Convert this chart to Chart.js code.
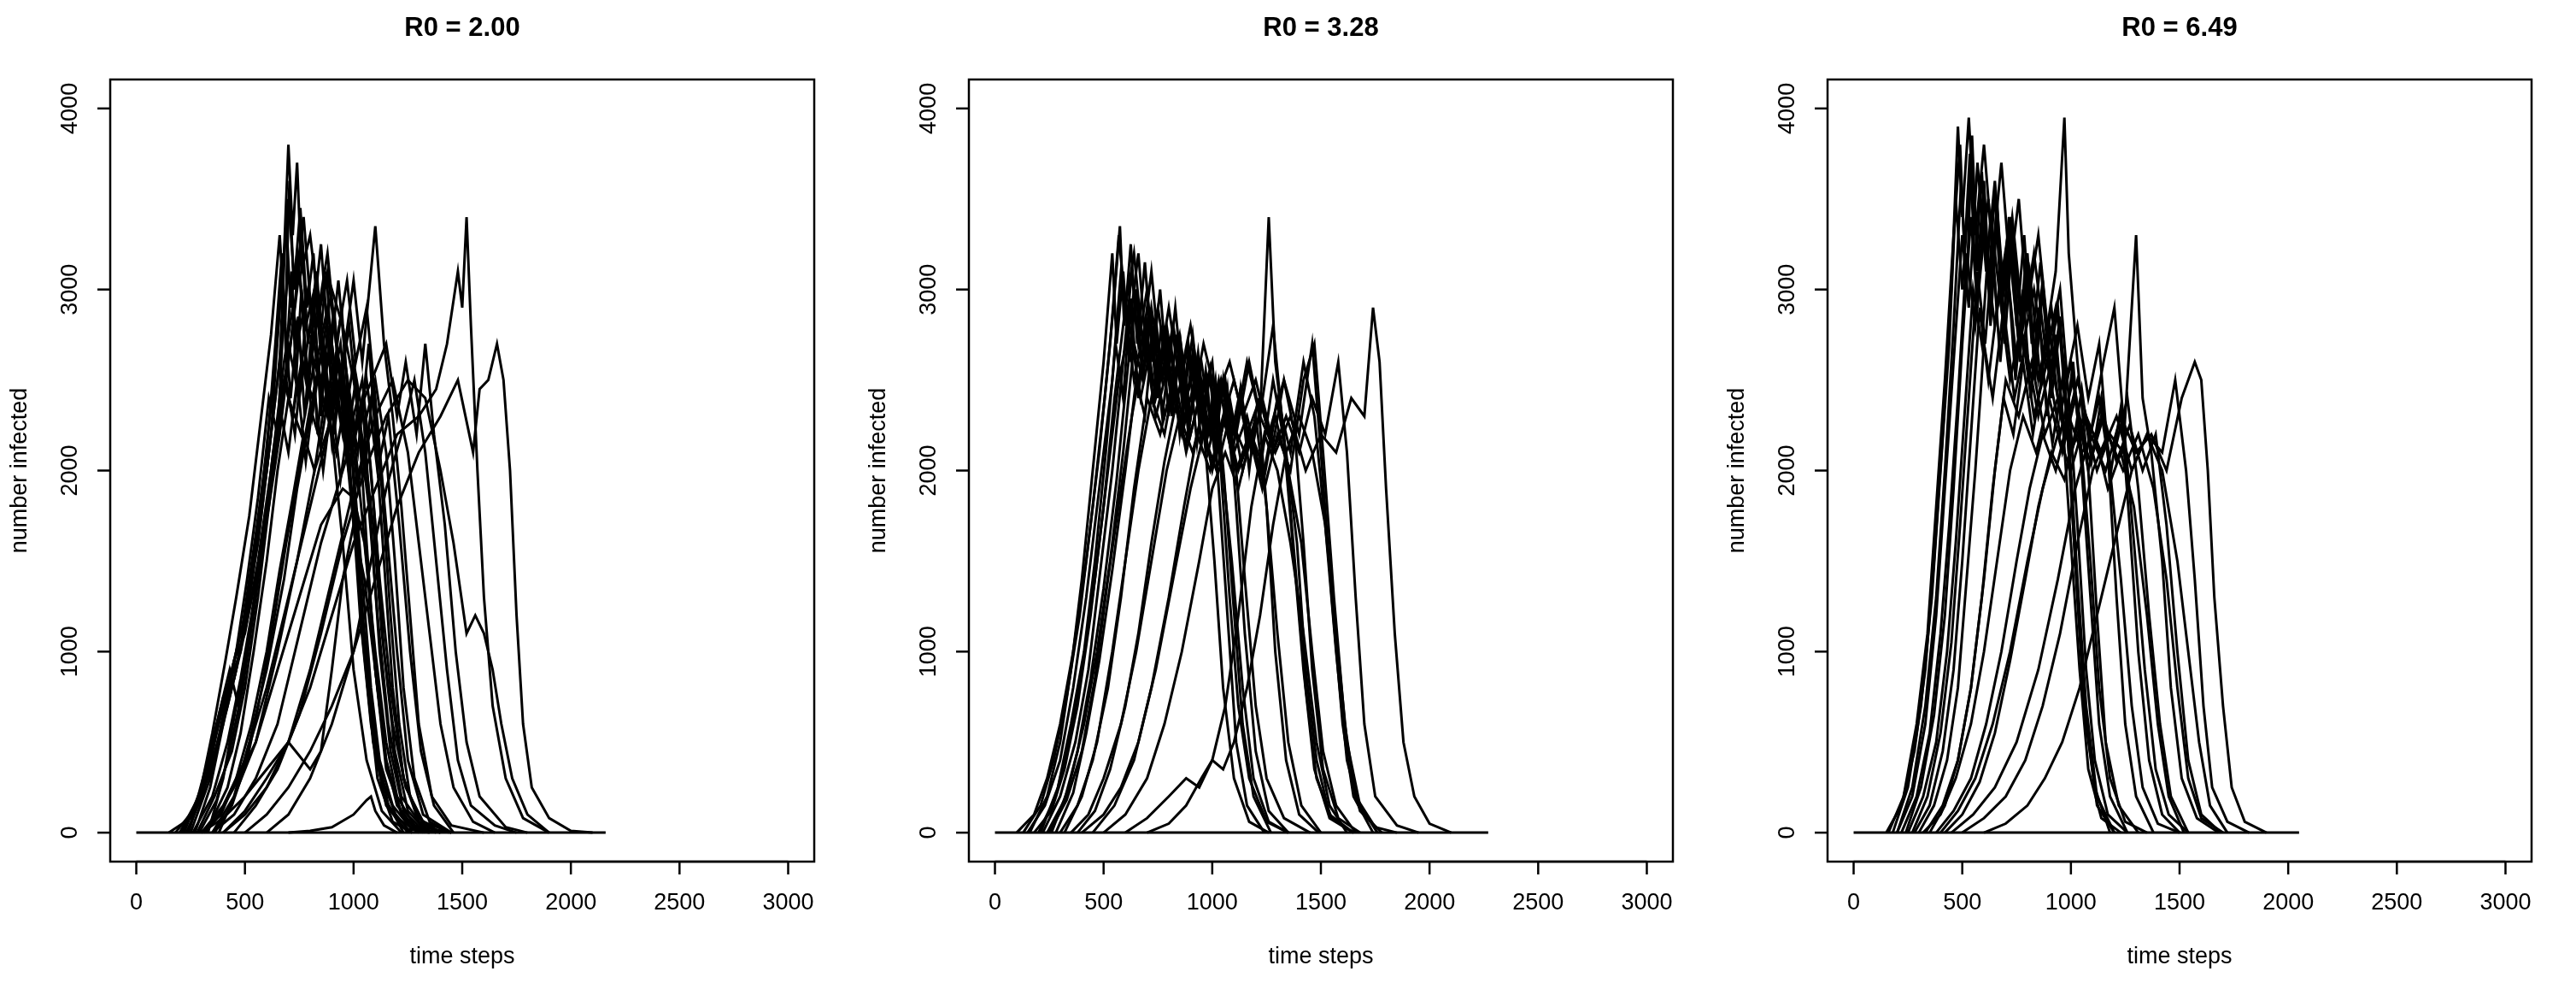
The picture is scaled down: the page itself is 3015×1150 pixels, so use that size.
<!DOCTYPE html>
<html><head><meta charset="utf-8">
<script src="https://cdn.jsdelivr.net/npm/chart.js@4/dist/chart.umd.min.js"></script>
<style>html,body{margin:0;padding:0;background:#fff}#wrap{position:relative;width:3015px;height:1150px}canvas{position:absolute;top:0}</style>
</head><body><div id="wrap">
<canvas id="c0" width="1005" height="1150" style="left:0"></canvas>
<canvas id="c1" width="1005" height="1150" style="left:1005px"></canvas>
<canvas id="c2" width="1005" height="1150" style="left:2010px"></canvas>
</div>
<script>
const panelTitles = ["R0 = 2.00", "R0 = 3.28", "R0 = 6.49"];
const xTicks = [0, 500, 1000, 1500, 2000, 2500, 3000];
const yTicks = [0, 1000, 2000, 3000, 4000];
const xLabel = "time steps";
const yLabel = "number infected";

// each run: flat list t0,y0,t1,y1,...
const runsR200 = [
[0,0,2160,0],
[150,0,250,80,330,300,400,600,460,900,520,1300,580,1900,640,2600,680,3200,700,3800,720,3300,740,3700,760,3100,800,3300,840,2900,880,3200,920,2700,960,2400,1000,2000,1040,1400,1080,800,1120,400,1180,150,1260,30,1400,0],
[200,0,300,200,380,500,440,900,500,1200,560,1600,620,2200,660,2900,700,3500,730,3000,770,3400,810,2800,850,3250,890,2600,930,3050,970,2500,1010,2100,1060,1500,1100,900,1150,400,1220,100,1300,0],
[180,0,280,150,350,400,420,700,480,1000,540,1500,600,2000,650,2500,700,3100,740,2700,790,3000,830,2600,880,2900,930,2400,980,2800,1020,2300,1070,1800,1110,1200,1160,600,1220,200,1320,30,1450,0],
[250,0,340,300,400,650,450,950,500,1100,560,1500,620,2000,680,2600,720,2900,780,2500,830,2800,880,3100,920,2700,970,3050,1010,2600,1060,2900,1100,2400,1150,1700,1200,1000,1250,400,1320,100,1450,0],
[300,0,400,150,500,400,600,800,700,1300,800,1800,880,2200,950,2600,1000,3050,1040,2600,1100,3350,1140,2700,1180,2300,1220,1800,1260,1200,1300,600,1360,200,1450,40,1600,0],
[350,0,450,100,550,300,650,600,750,1100,850,1600,950,2000,1050,2400,1150,2700,1200,2300,1240,2600,1290,2200,1330,2700,1370,2200,1420,1700,1470,1000,1520,500,1580,200,1700,30,1800,0],
[400,0,500,120,600,300,700,500,800,800,900,1200,1000,1600,1100,1900,1200,2200,1300,2300,1380,2450,1430,2700,1480,3100,1500,2900,1520,3400,1540,2800,1570,2000,1600,1300,1640,700,1700,300,1780,80,1900,0],
[500,0,600,100,700,250,800,450,900,700,1000,1000,1100,1400,1200,1800,1300,2100,1400,2300,1480,2500,1550,2100,1580,2450,1620,2500,1660,2700,1690,2500,1720,2000,1750,1200,1780,600,1820,250,1900,80,2000,10,2100,0],
[450,0,550,150,650,350,750,650,850,1100,950,1600,1050,2000,1150,2300,1250,2500,1330,2400,1400,2000,1460,1600,1520,1100,1560,1200,1600,1100,1640,900,1680,600,1730,300,1800,100,1900,0],
[700,0,800,10,900,30,1000,100,1060,180,1080,200,1100,120,1140,40,1200,0],
[380,0,450,200,520,500,600,900,680,1400,740,1900,800,2300,860,2700,900,3000,950,2800,1000,2500,1050,2100,1090,1700,1130,1100,1180,600,1240,250,1320,60,1450,0],
[220,0,300,250,370,600,420,800,480,1000,550,1400,610,1800,660,2200,700,2700,750,2400,800,2800,850,2500,900,2700,940,2300,990,1900,1030,1300,1080,700,1130,300,1200,80,1300,0],
[260,0,350,200,420,500,480,850,530,1200,580,1600,630,2100,680,2500,720,2300,760,2600,810,2400,860,2700,910,2500,960,2200,1000,1700,1050,1100,1100,500,1160,150,1250,20,1350,0],
[300,0,380,100,450,250,550,500,650,900,750,1300,850,1700,950,1900,1000,1850,1050,1600,1100,1000,1150,500,1200,200,1280,40,1380,0],
[300,0,400,80,500,200,600,350,700,500,800,350,850,450,900,900,950,1400,1000,1700,1050,1400,1100,900,1150,400,1200,150,1300,0],
[400,0,500,100,600,250,700,500,800,900,900,1400,1000,1900,1100,2300,1180,2500,1250,2100,1300,1600,1350,1100,1400,600,1460,250,1550,60,1650,0],
[200,0,280,180,340,450,400,750,450,850,510,1200,570,1700,620,2200,660,2600,690,3400,710,2900,740,3200,780,2800,820,3000,860,2600,900,2200,950,1600,1000,900,1060,400,1130,120,1220,0],
[320,0,420,250,480,550,540,1000,600,1500,650,2000,700,2400,760,2200,820,2600,880,2300,930,2600,980,2200,1040,2500,1080,2000,1120,1400,1170,800,1230,300,1300,80,1400,0],
[350,0,450,200,550,500,650,1000,740,1500,820,2000,900,2300,960,2600,1010,2200,1060,2500,1110,2000,1160,2300,1210,1700,1260,1000,1310,450,1370,150,1460,0],
[600,0,700,100,800,300,900,600,1000,1000,1080,1500,1150,1900,1220,2200,1280,2500,1330,2100,1380,1500,1430,900,1480,400,1540,150,1650,40,1750,0],
[240,0,320,300,380,650,430,900,470,700,520,1100,570,1500,620,1900,670,2300,720,2800,760,3300,790,2700,830,3100,870,2500,910,2900,950,2300,1000,1800,1040,1100,1090,500,1150,150,1250,0],
[280,0,360,200,440,450,500,800,560,1300,610,1800,660,2300,700,2600,750,3100,790,2500,840,2900,890,2400,940,2700,990,2100,1040,2400,1080,1700,1120,1000,1170,450,1230,120,1330,0],
[230,0,310,220,370,550,430,850,490,1150,550,1650,600,2100,640,2700,670,3200,690,2600,715,3100,735,2500,760,3000,790,2400,820,2900,850,2300,880,2800,910,2200,950,2600,990,1900,1030,1200,1080,600,1140,200,1230,0],
[270,0,340,250,400,600,460,1000,510,1400,560,1850,610,2400,650,2200,680,2900,710,2400,745,2850,775,2300,805,2750,835,2200,865,2650,900,2150,940,2550,980,2000,1020,2350,1060,1600,1100,900,1150,350,1230,80,1320,0],
[330,0,400,300,460,700,510,1000,560,1400,610,1900,660,2350,700,2100,740,2500,780,2050,820,2450,860,2000,900,2400,940,1950,980,2300,1020,1900,1060,2250,1100,1700,1140,1000,1190,450,1250,120,1340,0],
[210,0,290,200,350,550,410,950,460,1300,520,1750,570,2250,620,2750,660,3300,685,2800,705,3600,725,3000,755,3450,785,2900,815,3200,845,2700,875,3100,905,2500,945,2900,985,2200,1025,1500,1065,800,1110,300,1180,60,1270,0],
[290,0,370,180,430,450,490,800,550,1300,600,1800,650,2200,690,2500,730,2200,770,2700,810,2300,850,2650,890,2250,930,2600,970,2150,1010,2500,1050,2000,1090,2450,1130,1900,1170,1200,1210,600,1260,200,1340,0],
[360,0,440,150,510,400,570,750,630,1150,690,1600,750,2000,800,2350,850,2150,900,2550,950,2200,1000,2600,1050,2250,1100,2500,1150,2100,1190,1500,1230,800,1280,300,1350,60,1440,0],
[310,0,390,100,460,300,530,600,600,1000,660,1450,720,1850,770,2200,820,2000,870,2400,920,2100,970,2450,1020,2100,1070,2700,1100,2200,1140,1500,1180,800,1230,300,1300,60,1400,0]
];
const runsR328 = [
[0,0,2270,0],
[100,0,180,100,240,300,300,600,360,1000,420,1500,480,2100,530,2700,570,3300,600,2900,640,3200,680,2700,720,3100,760,2600,800,2900,850,2500,900,2800,950,2400,1000,2600,1040,2000,1080,1300,1120,700,1170,300,1250,60,1350,0],
[150,0,230,150,300,400,360,800,420,1300,480,1900,540,2500,580,3100,620,2800,660,3200,700,2600,750,2900,800,2500,850,2750,900,2300,950,2600,1000,2200,1060,2500,1110,2000,1150,1400,1200,700,1250,300,1330,80,1450,0],
[200,0,280,200,340,500,400,900,460,1400,520,2000,570,2500,620,2800,670,2400,720,2700,780,2300,840,2600,900,2200,960,2500,1020,2100,1080,2400,1140,2000,1200,2300,1250,1800,1300,1100,1350,500,1410,150,1500,0],
[250,0,330,180,400,450,460,850,520,1400,580,1900,630,2300,690,2700,740,2300,800,2600,860,2200,920,2500,980,2100,1040,2400,1100,2200,1160,2600,1220,2300,1260,3400,1290,2600,1330,2200,1380,1500,1430,800,1480,300,1550,80,1650,0],
[180,0,260,120,320,350,380,700,440,1200,500,1800,550,2400,600,2900,640,2500,690,2800,740,2400,800,2700,860,2300,920,2600,980,2200,1040,2500,1100,2100,1160,2300,1220,2000,1280,2500,1340,2100,1390,1600,1430,900,1480,400,1540,100,1650,0],
[300,0,380,150,450,400,520,800,580,1300,640,1900,700,2400,760,2200,820,2500,880,2100,940,2400,1000,2000,1060,2300,1120,2000,1180,2200,1240,1900,1300,2200,1360,2000,1420,2500,1470,2700,1510,2100,1560,1300,1610,600,1660,200,1750,30,1850,0],
[350,0,430,100,500,300,580,600,650,1000,720,1500,790,2000,850,2300,910,2100,970,2400,1030,2200,1100,2500,1160,2200,1220,2400,1280,2100,1340,2300,1400,2100,1460,2400,1520,2200,1580,2600,1620,2100,1660,1300,1700,600,1750,200,1850,40,1950,0],
[400,0,500,100,580,250,660,500,740,900,820,1400,900,1900,960,2200,1020,2000,1080,2300,1150,2100,1220,2300,1290,2100,1360,2300,1430,2000,1500,2200,1570,2100,1640,2400,1700,2300,1740,2900,1770,2600,1800,1900,1840,1100,1880,500,1930,200,2000,50,2100,0],
[700,0,800,50,880,150,950,300,1000,400,1050,350,1100,500,1160,800,1220,1200,1280,1700,1340,2100,1400,2300,1460,2100,1520,1700,1570,1100,1620,500,1680,150,1760,0],
[600,0,700,80,800,200,880,300,940,250,1000,400,1060,700,1120,1200,1180,1800,1240,2200,1300,2000,1360,1600,1420,1100,1480,500,1540,150,1620,0],
[220,0,300,200,370,500,430,900,490,1500,540,2000,590,2600,630,3100,660,2700,700,3000,740,2500,790,2800,840,2400,890,2700,940,2300,990,2500,1040,2100,1090,1500,1140,800,1190,300,1260,60,1350,0],
[260,0,340,250,410,600,470,1000,530,1500,590,2100,640,2700,680,2500,720,2900,770,2500,820,2800,880,2400,930,2600,990,2200,1050,2500,1110,2200,1170,2600,1220,2300,1280,2800,1320,2300,1370,1600,1420,900,1470,350,1540,80,1650,0],
[320,0,400,200,470,500,540,1000,600,1500,660,2000,720,2400,780,2200,840,2600,900,2300,960,2700,1020,2400,1080,2600,1140,2300,1200,2500,1260,2200,1330,2500,1400,2200,1460,2700,1500,2100,1550,1300,1600,600,1650,200,1740,0],
[500,0,600,100,700,300,780,600,860,1000,940,1500,1000,1900,1060,2100,1120,1900,1180,2200,1240,2000,1300,2400,1360,2100,1420,2600,1470,2300,1520,1700,1570,1000,1620,400,1680,120,1780,0],
[450,0,550,150,640,400,720,800,800,1300,870,1800,930,2200,990,2000,1050,2300,1110,2000,1170,2200,1230,1900,1290,2300,1350,2000,1410,1600,1460,1000,1510,450,1570,150,1660,0],
[160,0,240,200,300,500,350,900,400,1400,450,2000,500,2600,540,3200,560,2700,590,3100,620,2600,650,3000,680,2500,710,2900,745,2400,780,2800,815,2300,850,2700,890,2200,930,2600,970,2100,1010,1500,1050,800,1100,300,1170,60,1260,0],
[210,0,290,250,350,600,410,1000,460,1500,510,2100,555,2700,590,2400,625,2950,660,2400,695,2850,730,2350,765,2800,800,2300,835,2750,870,2250,910,2650,950,2150,990,2550,1030,2100,1070,2450,1110,1800,1150,1100,1200,450,1260,120,1350,0],
[280,0,360,220,420,550,480,950,540,1450,600,2000,650,2500,690,2300,730,2800,770,2300,810,2700,850,2200,890,2650,930,2150,970,2550,1010,2100,1050,2500,1090,2050,1130,2450,1170,2000,1210,2400,1250,1800,1290,1000,1340,400,1400,100,1490,0],
[240,0,320,180,380,450,440,850,500,1350,560,1950,610,2550,650,3000,680,2500,715,2900,750,2400,785,2800,820,2350,855,2700,895,2250,935,2650,975,2200,1015,2500,1055,1950,1095,1300,1140,600,1190,200,1270,0],
[380,0,460,120,530,350,600,700,660,1100,720,1600,780,2050,830,2350,880,2150,930,2500,980,2200,1030,2500,1080,2150,1130,2450,1180,2100,1230,2400,1280,2150,1330,2500,1380,2200,1420,1600,1460,900,1510,350,1580,80,1680,0],
[130,0,210,150,270,400,330,750,390,1200,450,1800,505,2400,545,2900,575,3350,595,2800,625,3250,655,2700,690,3150,725,2600,760,3000,795,2500,830,2900,870,2400,910,2750,950,2300,990,2550,1030,1900,1070,1200,1110,500,1160,150,1240,0]
];
const runsR649 = [
[0,0,2050,0],
[150,0,220,150,280,450,330,900,370,1500,410,2200,450,3000,480,3900,500,3400,530,3950,560,3300,600,3800,640,3200,680,3700,720,3100,760,3500,800,2900,850,3300,900,2700,950,3000,990,2400,1030,1700,1070,900,1110,400,1170,100,1260,0],
[200,0,270,200,330,600,380,1200,420,1900,460,2600,500,3300,530,2900,570,3700,610,3100,650,3600,690,3000,730,3400,780,2800,830,3200,880,2700,930,3100,970,3950,990,3200,1030,2600,1080,2000,1120,1200,1160,500,1220,150,1310,0],
[250,0,320,200,380,500,430,1000,470,1600,510,2300,550,3000,590,2700,630,3400,680,2900,730,3300,780,2700,830,3000,880,2600,930,2900,980,2500,1030,2800,1080,2400,1130,2700,1170,2100,1210,1300,1250,600,1300,200,1380,0],
[300,0,370,150,430,400,480,800,520,1400,560,2000,600,2700,640,2400,690,2900,740,2400,790,2700,850,2300,910,2600,970,2200,1030,2500,1090,2200,1150,2600,1200,2900,1240,2300,1290,1600,1340,900,1390,350,1450,100,1540,0],
[350,0,420,150,480,400,540,800,600,1400,650,2000,700,2500,760,2300,820,2600,880,2200,940,2400,1000,2100,1060,2300,1120,2000,1180,2200,1240,2100,1300,3300,1330,2400,1370,2100,1420,1500,1460,800,1510,300,1580,80,1680,0],
[400,0,480,120,560,300,640,600,720,1000,800,1500,870,1900,940,2200,1000,2000,1070,2300,1140,2100,1210,2300,1280,2000,1350,2200,1420,2100,1480,2500,1530,2000,1570,1400,1610,700,1650,250,1720,60,1820,0],
[450,0,550,100,650,250,750,500,850,900,940,1400,1020,1900,1090,2200,1160,2000,1230,2300,1300,2100,1370,2200,1440,2000,1510,2400,1570,2600,1600,2500,1630,2000,1660,1300,1700,700,1740,250,1800,60,1900,0],
[600,0,700,50,800,150,880,300,960,500,1040,800,1120,1200,1200,1600,1280,2000,1350,2200,1420,2000,1490,1500,1540,1000,1590,500,1640,150,1720,0],
[180,0,250,250,310,700,360,1300,400,2000,440,2700,470,3500,500,3000,540,3700,580,3100,620,3500,660,2900,710,3300,760,2700,810,3100,860,2500,910,2900,960,2300,1000,1600,1040,900,1080,350,1140,80,1230,0],
[220,0,290,200,350,550,400,1100,440,1700,480,2400,520,3200,560,2800,600,3300,650,2800,700,3200,750,2600,800,3000,850,2500,900,2800,950,2300,1000,2600,1050,2100,1090,1500,1130,800,1180,300,1250,60,1350,0],
[280,0,350,150,410,450,460,900,500,1500,540,2200,580,2900,620,2500,670,3000,720,2500,770,2800,830,2300,890,2600,950,2200,1010,2500,1070,2100,1130,2400,1180,2000,1230,1400,1280,700,1330,250,1400,50,1500,0],
[320,0,400,100,470,300,540,600,600,1000,660,1500,720,2000,780,2300,840,2100,900,2400,960,2100,1020,2400,1080,2000,1140,2300,1200,2100,1260,2400,1310,1900,1360,1200,1410,600,1460,200,1540,0],
[500,0,600,80,700,200,790,400,870,700,950,1100,1030,1600,1100,2000,1170,2200,1240,2000,1310,2200,1380,1900,1440,1400,1490,800,1540,300,1600,80,1700,0],
[380,0,460,120,540,300,610,600,680,1000,750,1500,810,1900,870,2200,930,2000,990,2300,1050,2100,1110,2200,1170,1900,1230,2100,1290,1800,1350,1200,1400,600,1450,200,1520,0],
[160,0,230,200,290,600,340,1100,380,1800,420,2500,460,3300,490,3800,510,3200,535,3750,560,3100,590,3650,620,3000,650,3550,680,2900,715,3400,750,2800,785,3300,820,2700,860,3150,900,2600,940,2900,980,2300,1020,1500,1060,700,1110,250,1180,0],
[240,0,310,250,370,650,420,1200,460,1900,500,2700,540,3400,570,2900,600,3500,630,2800,660,3400,695,2700,730,3300,765,2600,800,3200,835,2500,870,3000,910,2400,950,2800,990,2200,1030,1400,1070,700,1120,200,1200,0],
[270,0,340,200,400,550,450,1050,490,1700,530,2400,570,3100,605,2700,640,3200,675,2600,710,3100,745,2500,780,3000,815,2400,850,2900,890,2300,930,2750,970,2200,1010,2600,1050,2000,1090,1300,1130,600,1180,200,1260,0],
[200,0,270,250,330,700,380,1300,420,2000,460,2800,495,3600,520,3000,545,3850,570,3100,600,3600,630,2900,660,3500,690,2800,725,3400,760,2700,795,3200,830,2600,870,3050,910,2500,950,2850,990,2100,1030,1300,1070,600,1120,150,1200,0],
[330,0,410,150,480,400,540,800,590,1300,640,1900,690,2400,735,2200,780,2600,825,2200,870,2550,915,2150,960,2500,1005,2100,1050,2450,1095,2050,1140,2400,1185,2000,1230,2350,1270,1700,1310,1000,1360,400,1420,100,1500,0],
[420,0,500,100,580,280,650,550,720,950,790,1400,850,1800,910,2100,970,1950,1030,2250,1090,2050,1150,2300,1210,2050,1270,2250,1330,2000,1390,2200,1440,1700,1490,1000,1540,400,1600,100,1690,0]
];
const allRuns = [runsR200, runsR328, runsR649];

const rAxes = {
  id: 'rAxes',
  afterDraw(chart, args, opts) {
    const ctx = chart.ctx, a = chart.chartArea, xs = chart.scales.x, ys = chart.scales.y;
    ctx.save();
    ctx.strokeStyle = '#000'; ctx.fillStyle = '#000'; ctx.lineWidth = 2.5;
    ctx.strokeRect(a.left, a.top, a.right - a.left, a.bottom - a.top);
    ctx.font = '27px "Liberation Sans", Arial, sans-serif';
    ctx.textAlign = 'center'; ctx.textBaseline = 'middle';
    ctx.beginPath();
    ctx.moveTo(xs.getPixelForValue(xTicks[0]), a.bottom);
    ctx.lineTo(xs.getPixelForValue(xTicks[xTicks.length-1]), a.bottom);
    ctx.stroke();
    xTicks.forEach(v => {
      const px = xs.getPixelForValue(v);
      ctx.beginPath(); ctx.moveTo(px, a.bottom); ctx.lineTo(px, a.bottom + 15); ctx.stroke();
      ctx.fillText(String(v), px, a.bottom + 49);
    });
    yTicks.forEach(v => {
      const py = ys.getPixelForValue(v);
      ctx.beginPath(); ctx.moveTo(a.left, py); ctx.lineTo(a.left - 15, py); ctx.stroke();
      ctx.save(); ctx.translate(a.left - 46, py); ctx.rotate(-Math.PI/2); ctx.fillText(String(v), 0, 0); ctx.restore();
    });
    ctx.fillText(xLabel, (a.left + a.right)/2, a.bottom + 112);
    ctx.save(); ctx.translate(24, (a.top + a.bottom)/2); ctx.rotate(-Math.PI/2); ctx.fillText(yLabel, 0, 0); ctx.restore();
    ctx.font = 'bold 31px "Liberation Sans", Arial, sans-serif';
    ctx.fillText(opts.title, (a.left + a.right)/2, 33);
    ctx.restore();
  }
};

allRuns.forEach((runs, i) => {
  const datasets = runs.map(r => {
    const pts = [];
    for (let k = 0; k < r.length; k += 2) pts.push({x: r[k], y: r[k+1]});
    return {data: pts, borderColor: '#000', borderWidth: 3, pointRadius: 0, fill: false, tension: 0};
  });
  new Chart(document.getElementById('c' + i), {
    type: 'line',
    data: {datasets},
    options: {
      responsive: false, animation: false, devicePixelRatio: 1,
      layout: {padding: {left: 129, right: 52, top: 93, bottom: 142}},
      plugins: {legend: {display: false}, tooltip: {enabled: false}, rAxes: {title: panelTitles[i]}},
      scales: {
        x: {type: 'linear', min: -120, max: 3120, display: false},
        y: {type: 'linear', min: -160, max: 4160, display: false}
      }
    },
    plugins: [rAxes]
  });
});
</script>
</body></html>
